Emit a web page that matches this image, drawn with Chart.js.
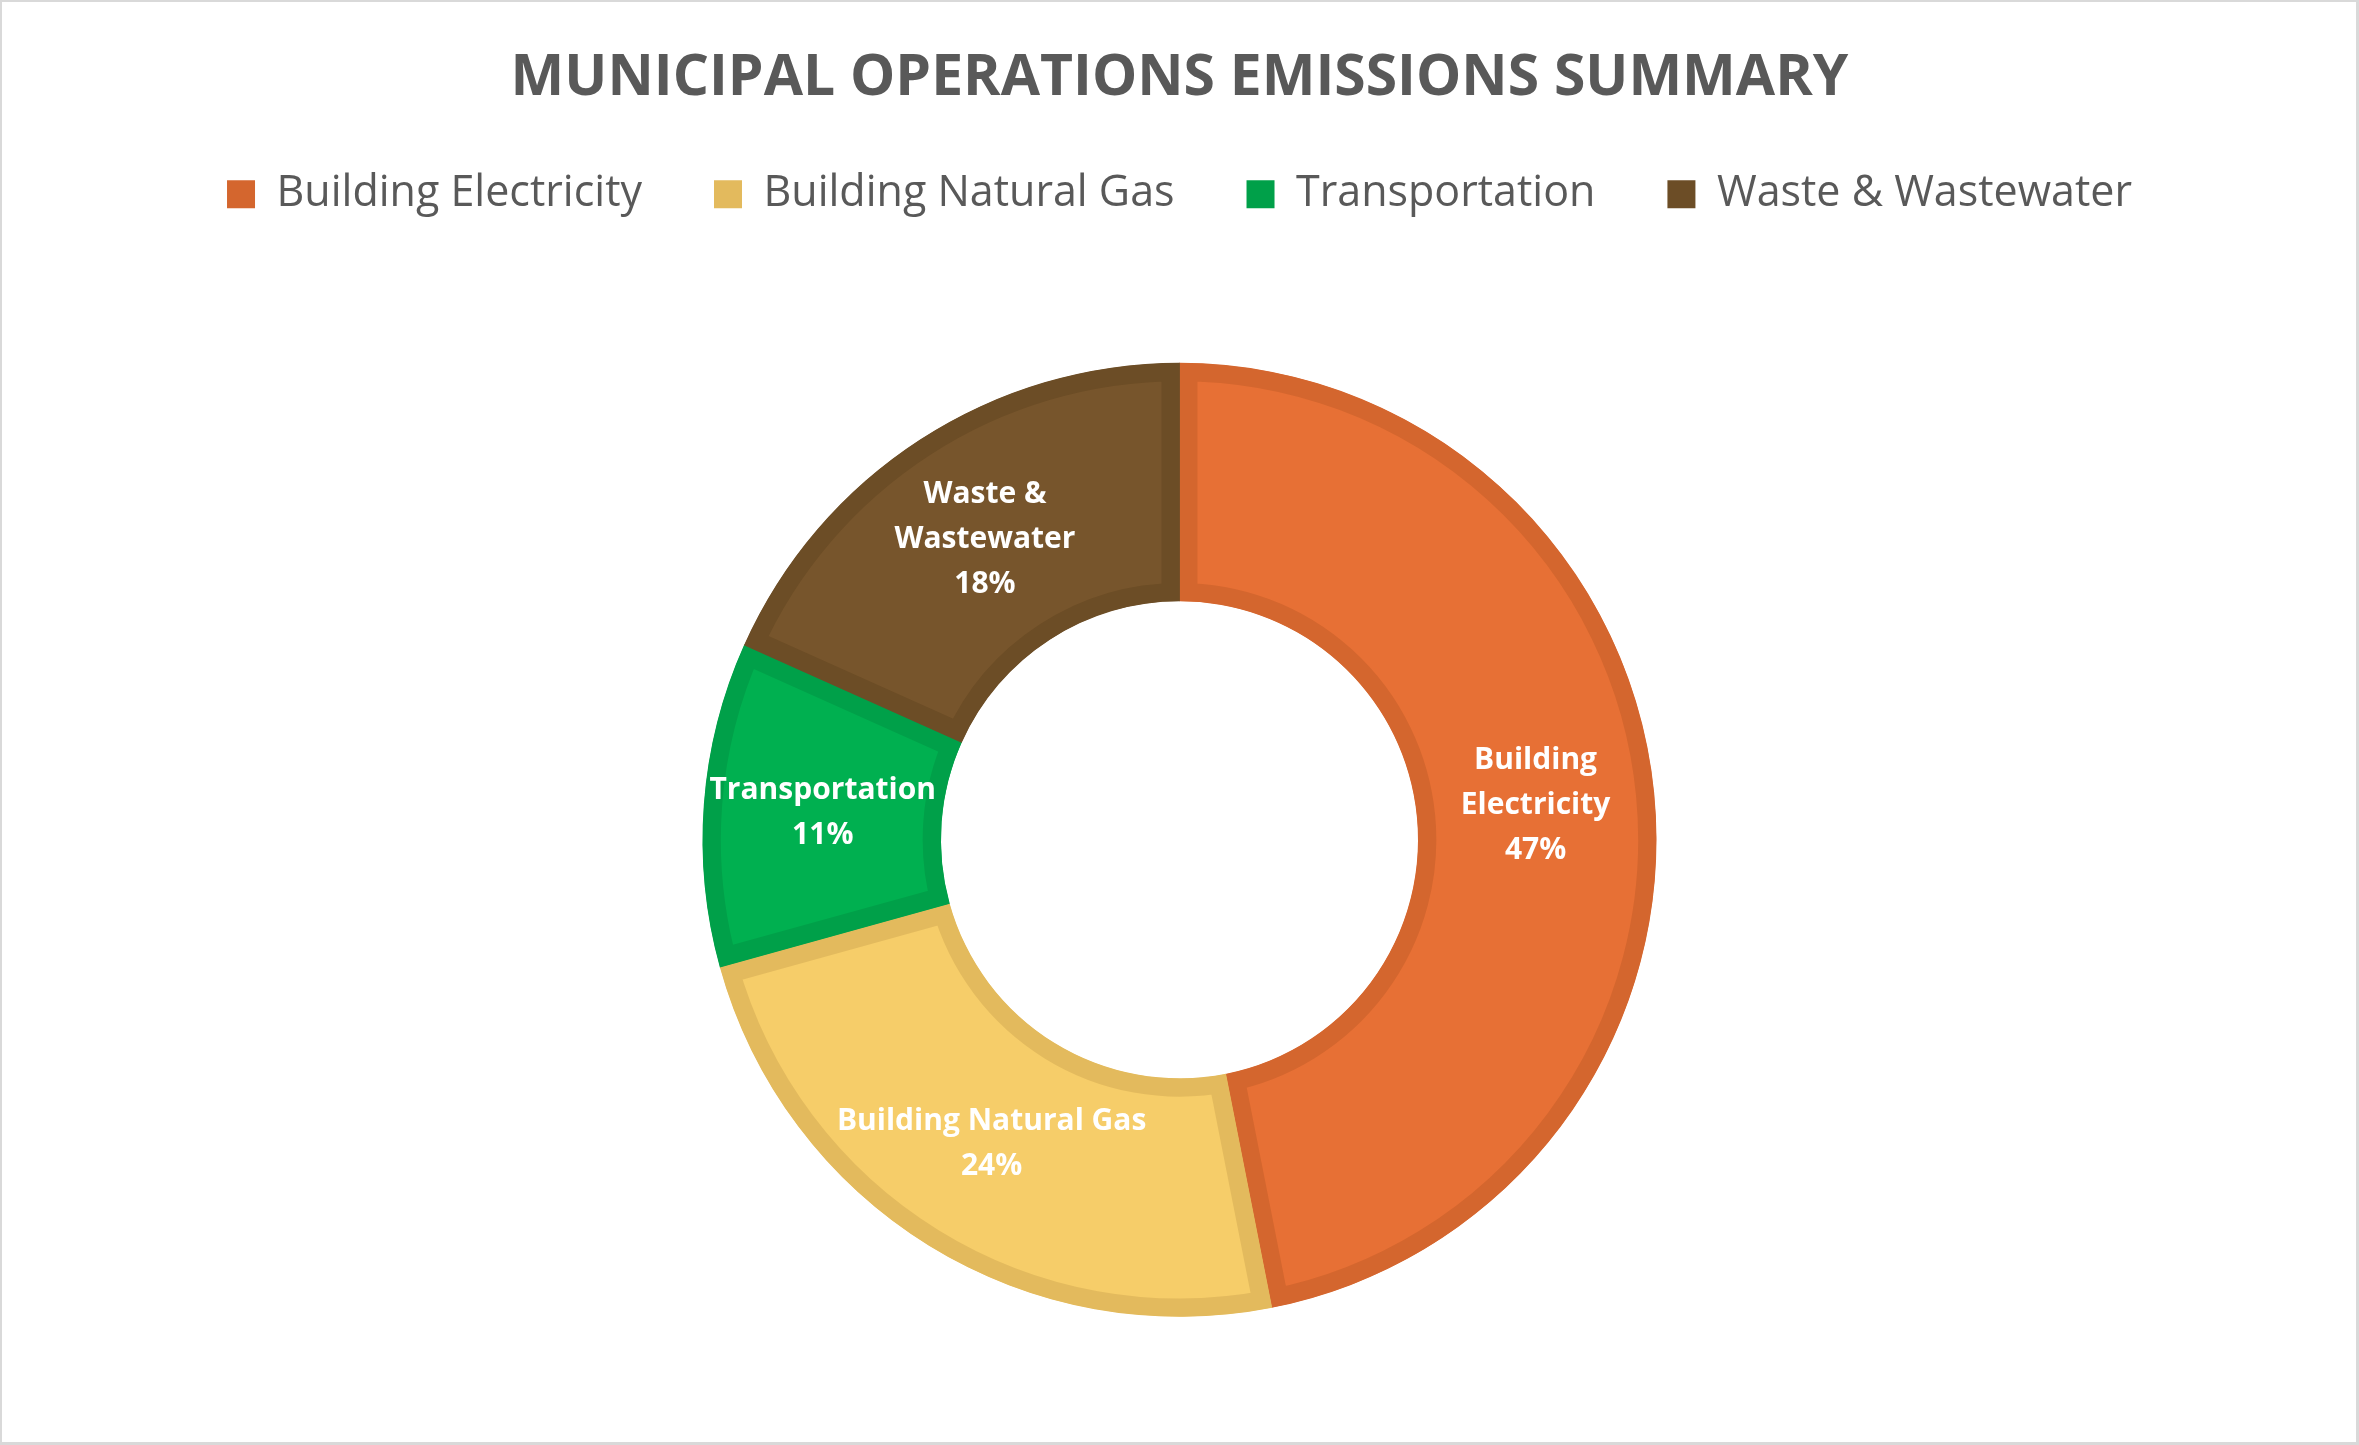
<!DOCTYPE html>
<html>
<head>
<meta charset="utf-8">
<script src="https://cdn.jsdelivr.net/npm/chart.js@4/dist/chart.umd.min.js"></script>
<style>
  html, body { margin: 0; padding: 0; background: #ffffff; overflow: hidden; }
  #wrap { position: relative; width: 2359px; height: 1445px; overflow: hidden; }
  #c { position: absolute; left: 0; top: 0; }
  #frame { position: absolute; left: 0; top: 0; width: 2359px; height: 1445px; box-sizing: border-box; border: 2px solid #D9D9D9; border-right-width: 3px; border-bottom-width: 3px; pointer-events: none; }
</style>
</head>
<body>
<div id="wrap">
  <canvas id="c" width="2359" height="1454"></canvas>
  <div id="frame"></div>
</div>
<script>
// ---- Data ----
const chartTitle = 'MUNICIPAL OPERATIONS EMISSIONS SUMMARY';
const categories = ['Building Electricity', 'Building Natural Gas', 'Transportation', 'Waste & Wastewater'];
const sharePercent = [46.9, 23.8, 11.0, 18.3];
const labelLines = [['Building', 'Electricity'], ['Building Natural Gas'], ['Transportation'], ['Waste &', 'Wastewater']];

// ---- Styles ----
const fillColors = ['#E77035', '#F6CD69', '#00B050', '#77552C'];
const edgeColors = ['#D4662E', '#E3BA5D', '#00A049', '#6C4D26'];
const textGray = '#595959';
const FONT = "'Open Sans', 'Noto Sans', sans-serif";

const dataLabelPlugin = {
  id: 'sliceLabels',
  afterDatasetsDraw(chart) {
    const ctx = chart.ctx;
    const meta = chart.getDatasetMeta(0);
    const values = chart.data.datasets[0].data;
    const total = values.reduce((a, b) => a + b, 0);
    ctx.save();
    ctx.fillStyle = '#FFFFFF';
    ctx.font = "bold 30px " + FONT;
    ctx.textAlign = 'center';
    ctx.textBaseline = 'middle';
    const lh = 45;
    meta.data.forEach((arc, i) => {
      const pos = arc.tooltipPosition();
      const lines = labelLines[i].concat([Math.round(values[i] / total * 100) + '%']);
      const startY = pos.y - (lines.length - 1) * lh / 2;
      lines.forEach((t, k) => ctx.fillText(t, pos.x, startY + k * lh));
    });
    ctx.restore();
  }
};

new Chart(document.getElementById('c'), {
  type: 'doughnut',
  data: {
    labels: categories,
    datasets: [{
      data: sharePercent,
      backgroundColor: fillColors,
      borderColor: edgeColors,
      borderWidth: 18,
      borderAlign: 'inner',
      borderJoinStyle: 'miter',
      offset: 0,
      hoverOffset: 0
    }]
  },
  options: {
    responsive: false,
    animation: false,
    events: [],
    devicePixelRatio: 1,
    cutout: '50%',
    radius: 477,
    layout: { padding: { top: 0, bottom: 0, left: 0, right: 0 } },
    plugins: {
      tooltip: { enabled: false },
      title: {
        display: true,
        text: chartTitle,
        color: textGray,
        font: { family: FONT, size: 57, weight: 'bold', lineHeight: 0.45 },
        padding: { top: 66, bottom: 9 }
      },
      legend: {
        display: true,
        position: 'top',
        labels: {
          color: textGray,
          font: { family: FONT, size: 43 },
          boxWidth: 28,
          boxHeight: 28,
          padding: 72,
          generateLabels(chart) {
            return chart.data.labels.map((l, i) => ({
              text: l,
              fillStyle: edgeColors[i],
              strokeStyle: edgeColors[i],
              lineWidth: 0,
              hidden: false,
              index: i,
              fontColor: textGray
            }));
          }
        }
      }
    }
  },
  plugins: [dataLabelPlugin]
});
</script>
</body>
</html>
